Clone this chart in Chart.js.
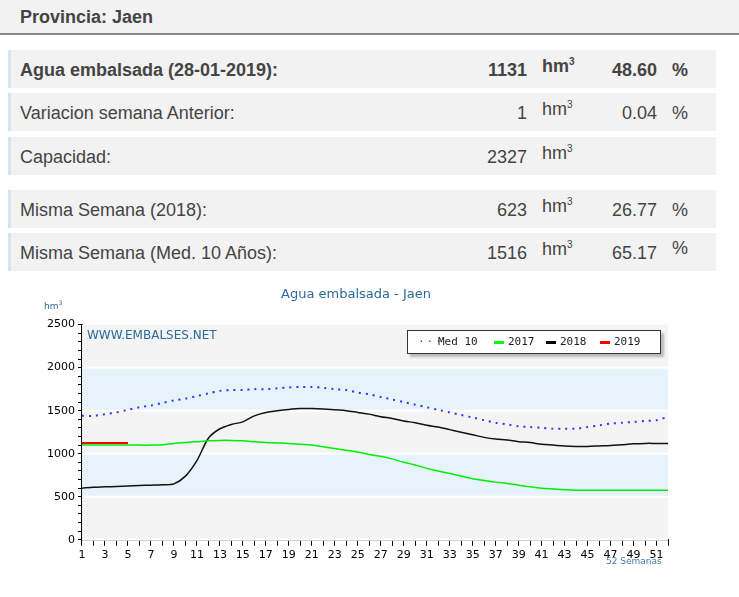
<!DOCTYPE html>
<html><head><meta charset="utf-8">
<script src="https://cdn.jsdelivr.net/npm/chart.js@4"></script>
<style>
body{margin:0;background:#fff;font-family:"Liberation Sans",Arial,sans-serif;color:#444;width:739px;height:597px;position:relative;overflow:hidden}
.hdr{position:absolute;left:0;top:0;width:739px;height:35px;background:#f2f2f2;border-bottom:2px solid #888;font-weight:bold;font-size:18px;line-height:35px;padding-left:20px;box-sizing:border-box;color:#444}
.row{position:absolute;left:8px;width:708px;height:38px;background:#f2f2f2;border-left:3px solid #d4e4f1;box-sizing:border-box;font-size:18px;line-height:40px}
.row .l{position:absolute;left:9px}
.row .n{position:absolute;right:189px}
.row .u{position:absolute;left:531px;top:-8px}
.row .u sup{font-size:10px}
.row .p{position:absolute;right:59px}
.row .pc{position:absolute;left:661px}
.b{font-weight:bold}
#wrap{position:absolute;left:40px;top:283px;width:640px;height:290px}
.ov{position:absolute;font-family:"DejaVu Sans",Verdana,sans-serif}
#leg{position:absolute;left:367px;top:47px;width:252px;height:22px;background:#fff;border:1px solid #333;box-shadow:3px 3px 2px #bbb;font-family:"DejaVu Sans Mono",monospace;font-size:11px;line-height:22px;color:#222}
#leg span{position:absolute}
#leg i{position:absolute;top:10px;height:3px;width:10px}
</style></head><body>
<div class="hdr">Provincia: Jaen</div>
<div class="row b" style="top:50px"><span class="l">Agua embalsada (28-01-2019):</span><span class="n">1131</span><span class="u">hm<sup>3</sup></span><span class="p">48.60</span><span class="pc">%</span></div>
<div class="row" style="top:93px"><span class="l">Variacion semana Anterior:</span><span class="n">1</span><span class="u">hm<sup>3</sup></span><span class="p">0.04</span><span class="pc">%</span></div>
<div class="row" style="top:137px"><span class="l">Capacidad:</span><span class="n">2327</span><span class="u">hm<sup>3</sup></span></div>
<div class="row" style="top:190px"><span class="l">Misma Semana (2018):</span><span class="n">623</span><span class="u">hm<sup>3</sup></span><span class="p">26.77</span><span class="pc">%</span></div>
<div class="row" style="top:233px"><span class="l">Misma Semana (Med. 10 Años):</span><span class="n">1516</span><span class="u">hm<sup>3</sup></span><span class="p">65.17</span><span class="pc" style="top:-5px">%</span></div>
<div id="wrap">
<canvas id="c"></canvas>
<div class="ov" style="left:4px;top:16px;font-size:9px;color:#369">hm<sup style="font-size:6px">3</sup></div>
<div class="ov" style="left:47px;top:45px;font-size:12px;color:#2a6a9a">WWW.EMBALSES.NET</div>
<div class="ov" style="left:566px;top:273px;font-size:9px;color:#4a7ab0">52 Semanas</div>
<div id="leg">
<span style="left:10px;color:#33f;letter-spacing:2px">···</span><span style="left:30px">Med 10</span>
<i style="left:86px;background:#0f0"></i><span style="left:100px">2017</span>
<i style="left:138px;background:#000"></i><span style="left:152px">2018</span>
<i style="left:192px;background:#f00"></i><span style="left:206px">2019</span>
</div>
</div>
<script>
const weeks = Array.from({length: 52}, (_, i) => String(i + 1));
const med10 = [1440,1440,1460,1480,1510,1540,1560,1590,1620,1640,1670,1700,1730,1740,1740,1750,1750,1760,1770,1775,1775,1765,1750,1740,1710,1690,1660,1630,1600,1570,1540,1510,1480,1450,1420,1390,1360,1340,1320,1310,1300,1290,1290,1290,1310,1330,1350,1360,1370,1380,1390,1430];
const y2017 = [1100,1100,1100,1100,1100,1100,1100,1105,1120,1130,1140,1150,1155,1155,1150,1140,1130,1125,1120,1110,1100,1080,1060,1040,1020,990,970,940,900,870,830,800,770,740,710,690,670,655,635,615,600,590,580,575,575,575,575,575,575,575,575,575];
const y2018 = [600,610,615,620,625,630,635,640,650,740,920,1180,1290,1340,1370,1440,1480,1500,1515,1525,1525,1520,1510,1500,1480,1460,1430,1410,1380,1360,1330,1310,1280,1250,1220,1190,1170,1160,1140,1130,1110,1100,1090,1085,1085,1090,1095,1105,1115,1120,1120,1120];
const y2019 = [1125,1125,1125,1125,1125];
const bandLow = [0, 500, 1000, 1500, 2000];

const bands = {
  id: 'bands',
  beforeDatasetsDraw(chart) {
    const {ctx, chartArea: a, scales: {y}} = chart;
    bandLow.forEach((v, i) => {
      ctx.fillStyle = i % 2 ? '#e7f3fb' : '#f4f4f4';
      const t = y.getPixelForValue(v + 500), b = y.getPixelForValue(v);
      ctx.fillRect(a.left, t, a.right - a.left, b - t);
      ctx.fillStyle = '#fff';
      ctx.fillRect(a.left, b - 1, a.right - a.left, 2);
    });
  }
};

const line = (data, color, extra) => Object.assign({data, borderColor: color, borderWidth: 1.5, pointRadius: 0, tension: 0.3, fill: false}, extra);

new Chart(document.getElementById('c'), {
  type: 'line',
  data: {
    labels: weeks,
    datasets: [
      line(med10, '#3333ff', {borderDash: [2, 5], borderWidth: 2}),
      line(y2017, '#00ee00'),
      line(y2018, '#111111'),
      line(y2019, '#ff0000', {borderWidth: 2})
    ]
  },
  options: {
    responsive: true, maintainAspectRatio: false, animation: false,
    layout: {padding: {left: 4, right: 12, top: 0, bottom: 8}},
    plugins: {
      legend: {display: false}, tooltip: {enabled: false},
      title: {display: true, text: 'Agua embalsada - Jaen', color: '#2a6a9a', font: {family: 'DejaVu Sans', size: 13, weight: 'normal'}, padding: {top: 4, bottom: 22}}
    },
    scales: {
      x: {
        offset: false,
        border: {color: '#000', width: 2},
        grid: {drawOnChartArea: false, color: '#000', tickLength: 6},
        ticks: {autoSkip: false, maxRotation: 0, color: '#000', font: {family: 'DejaVu Sans', size: 11},
          callback: (v, i) => i % 2 === 0 ? weeks[i] : ''}
      },
      y: {
        min: 0, max: 2500,
        border: {color: '#000', width: 2},
        grid: {drawOnChartArea: false, color: '#000', tickLength: 4},
        ticks: {stepSize: 100, autoSkip: false, color: '#000', font: {family: 'DejaVu Sans', size: 11},
          callback: v => Math.round(v) % 500 === 0 ? Math.round(v) : ''}
      }
    }
  },
  plugins: [bands]
});
</script>
</body></html>
